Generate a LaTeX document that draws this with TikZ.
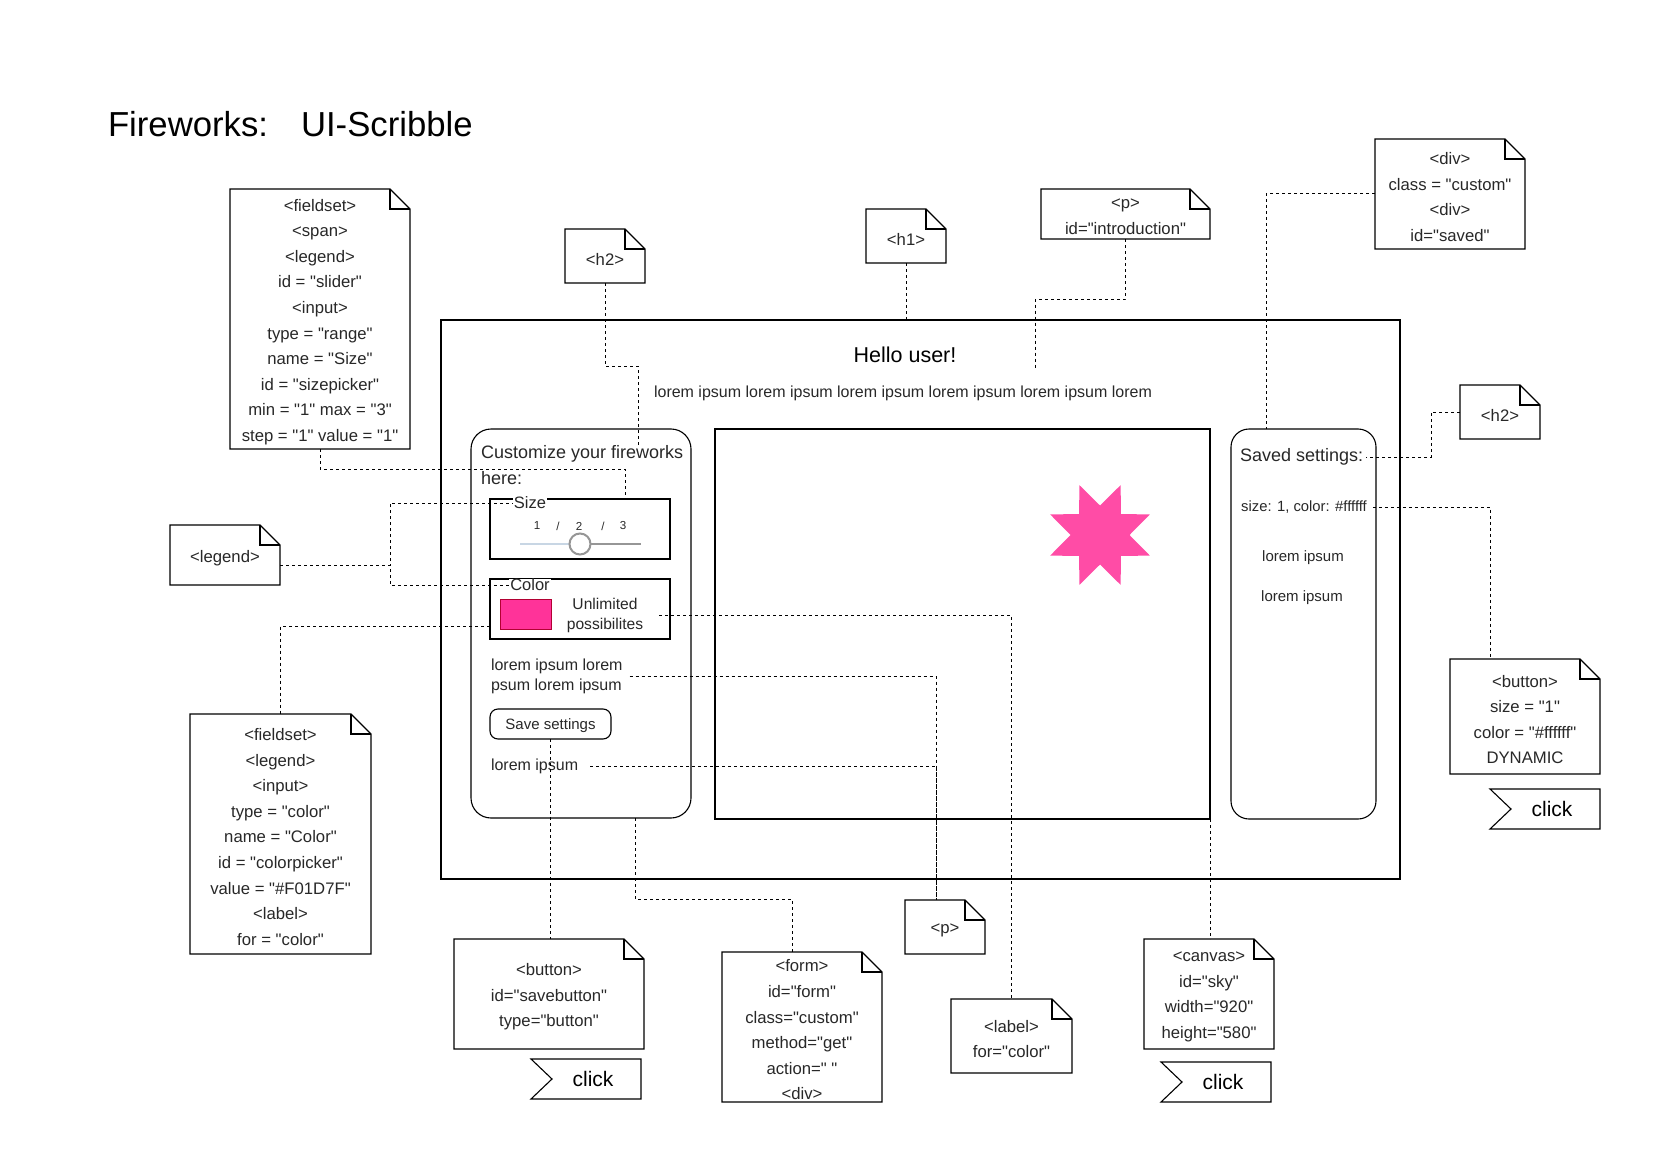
\documentclass[tikz,border=0pt]{standalone}
\usepackage{fontspec}
\setmainfont{Liberation Sans}[Ligatures=TeXOff]
\usetikzlibrary{calc}
\newcommand{\fsz}[2]{\fontsize{#1}{#2}\selectfont}
\definecolor{starpink}{RGB}{255,76,166}
\definecolor{swatchpink}{RGB}{255,51,153}
\definecolor{swatchline}{RGB}{178,0,50}
\definecolor{trackblue}{RGB}{200,214,228}
\definecolor{trackgray}{RGB}{150,150,150}
\definecolor{txtgray}{RGB}{40,40,40}
% note: frame node (name), centre x, centre y, width, height, text
\newcommand{\notebox}[6]{%
  \node[minimum width=#4, minimum height=#5] (#1) at (#2,#3) {};
  \node[notetext] (#1-t) at ($(#1.center)+(0,3)$) {#6};
  \draw[noteline] (#1.north west) -- ($(#1.north east)+(-20,0)$) -- ($(#1.north east)+(0,20)$) -- (#1.south east) -- (#1.south west) -- cycle;
  \draw[noteline] ($(#1.north east)+(-20,0)$) -- ++(0,20) -- ++(20,0);
}
% click tag: name, centre x, centre y
\newcommand{\clicktag}[3]{%
  \node[clickbox] (#1) at (#2,#3) {\hspace{14pt}click};
  \draw[noteline] (#1.north west) -- (#1.north east) -- (#1.south east) -- (#1.south west) -- ($(#1.west)+(21,0)$) -- cycle;
}
\begin{document}
\begin{tikzpicture}[x=1pt,y=-1pt,
  every node/.style={inner sep=0pt, outer sep=0pt},
  solidbox/.style={draw, line width=1.1pt},
  conn/.style={draw, line width=1pt, dash pattern=on 3pt off 3pt},
  noteline/.style={draw, line width=1.1pt},
  notetext/.style={align=center, font=\fsz{16.7}{25.6}, text=txtgray},
  clickbox/.style={minimum width=110, minimum height=40, font=\fsz{21}{24}},
  uitext/.style={text=txtgray}
]
\fill[white] (0,0) rectangle (1654,1169);
\useasboundingbox (0,0) rectangle (1654,1169);

% title
\node[anchor=base west, font=\fsz{34.7}{40}] (title) at (108,137) {Fireworks:\hspace{33pt}UI-Scribble};

% main frame and panels
\node[solidbox, minimum width=959, minimum height=559] (main) at (920.5,599.5) {};
\node[font=\fsz{21.5}{26}] (hello) at (905,355) {Hello user!};
\node[font=\fsz{16}{20}, uitext] (intro) at (903,393) {lorem ipsum lorem ipsum lorem ipsum lorem ipsum lorem ipsum lorem};

\node[solidbox, rounded corners=20, minimum width=220, minimum height=389] (cust) at (581,623.5) {};
\node[solidbox, minimum width=495, minimum height=390] (canvas) at (962.5,624) {};
\node[solidbox, rounded corners=18, minimum width=145, minimum height=390] (saved) at (1303.5,624) {};

% customize panel content
\node[anchor=base west, font=\fsz{18}{22}, uitext] (custA) at (481,458) {Customize your fireworks};
\node[anchor=base west, font=\fsz{18}{22}, uitext] (custB) at (481,484) {here:};
\coordinate (h2end) at (638,445);

\node[solidbox, minimum width=180, minimum height=60] (sizebox) at (580,529) {};
\node[fill=white, inner xsep=1pt, font=\fsz{16.5}{20}, uitext] (sizelbl) at (530,503) {Size};
\node[font=\fsz{11.6}{14}, uitext] (n1) at (537,526) {1};
\node[font=\fsz{11.6}{14}, uitext] (s1) at (558,526) {/};
\node[font=\fsz{11.6}{14}, uitext] (n2) at (579,526) {2};
\node[font=\fsz{11.6}{14}, uitext] (s2) at (603,526) {/};
\node[font=\fsz{11.6}{14}, uitext] (n3) at (623,526) {3};
\draw[line width=2pt, trackblue] (520,544) -- (570,544);
\draw[line width=2pt, trackgray] (590,544) -- (641,544);
\node[circle, draw=trackgray, line width=2pt, fill=white, minimum size=21] (knob) at (580,544) {};

\node[solidbox, minimum width=180, minimum height=60] (colorbox) at (580,609) {};
\node[fill=white, inner xsep=1pt, font=\fsz{16.5}{20}, uitext] (colorlbl) at (530,585) {Color};
\node[draw=swatchline, line width=1pt, fill=swatchpink, minimum width=51, minimum height=30] (swatch) at (525.5,614) {};
\node[align=center, font=\fsz{15.6}{20}, uitext] (unlim) at (605,615.5) {Unlimited\\possibilites};

\node[anchor=west, align=left, font=\fsz{16}{20}, uitext] (lorem1) at (491,676) {lorem ipsum lorem\\psum lorem ipsum};
\node[draw, line width=1.1pt, rounded corners=8, minimum width=121, minimum height=30] (savebtn) at (550.5,724) {};
\node[font=\fsz{15}{18}, uitext] (savebtn-t) at (550.5,726) {Save settings};
\node[anchor=west, font=\fsz{16}{20}, uitext] (lorem2) at (491,766) {lorem ipsum};

% star in canvas
\fill[starpink] ($(1100,535)+(0:29.5)$) \foreach \k in {0,...,7}{ -- ($(1100,535)+({45*\k+22.5}:54)$) -- ($(1100,535)+({45*\k+45}:29.5)$) } -- cycle;

% saved settings panel content
\node[anchor=west, inner xsep=3pt, font=\fsz{18}{22}, uitext] (savedtxt) at (1237,457) {Saved settings:};
\node[inner xsep=6pt, font=\fsz{14.8}{18}, uitext] (sizetxt) at (1304,507) {size: 1, color: \#ffffff};
\node[font=\fsz{15}{18}, uitext] (slorem1) at (1303,558) {lorem ipsum};
\node[font=\fsz{15}{18}, uitext] (slorem2) at (1302,598) {lorem ipsum};

% notes
\notebox{fs1}{320}{319}{180}{260}{<fieldset>\\<span>\\<legend>\\id = "slider"\\<input>\\type = "range"\\name = "Size"\\id = "sizepicker"\\min = "1" max = "3"\\step = "1" value = "1"}
\notebox{h2a}{605}{256}{80}{54}{<h2>}
\notebox{h1}{906}{236}{80}{54}{<h1>}
\notebox{pintro}{1125.5}{214}{169}{50}{<p>\\id="introduction"}
\notebox{div}{1450}{194}{150}{110}{<div>\\class = "custom"\\<div>\\id="saved"}
\notebox{h2b}{1500}{412}{80}{54}{<h2>}
\notebox{legend}{225}{555}{110}{60}{<legend>}
\notebox{fs2}{280.5}{834}{181}{240}{<fieldset>\\<legend>\\<input>\\type = "color"\\name = "Color"\\id = "colorpicker"\\value = "\#F01D7F"\\<label>\\for = "color"}
\notebox{btn}{549}{994}{190}{110}{<button>\\id="savebutton"\\type="button"}
\notebox{form}{802}{1027}{160}{150}{<form>\\id="form"\\class="custom"\\method="get"\\action=" "\\<div>}
\notebox{p2}{945}{927}{80}{54}{<p>}
\notebox{lbl}{1011.5}{1036}{121}{74}{<label>\\for="color"}
\notebox{cnote}{1209}{994}{130}{110}{<canvas>\\id="sky"\\width="920"\\height="580"}
\notebox{btndyn}{1525}{716.5}{150}{115}{<button>\\size = "1"\\color = "\#ffffff"\\DYNAMIC}

% click tags
\clicktag{click1}{586}{1079}
\clicktag{click2}{1545}{809}
\clicktag{click3}{1216}{1082}

% connectors
\draw[conn] (fs1.south) -- ++(0,20) -| ($(sizebox.north)+(45,0)$);
\draw[conn] (h2a.south) -- ++(0,83) -| (h2end);
\draw[conn] (h1.south) -- (h1.south |- main.north);
\coordinate (pend) at (1035,369);
\draw[conn] (pintro.south) -- ++(0,60) -| (pend);
\draw[conn] (div.west) -| ($(saved.north)+(-37.5,0)$);
\draw[conn] (h2b.west) -- ++(-29,0) |- (savedtxt.east);
\draw[conn] (sizetxt.east) -| ($(btndyn.north)+(-35,0)$);
\draw[conn] ($(legend.east)+(0,10)$) -- ++(110,0) |- (sizelbl.west);
\draw[conn] ($(legend.east)+(0,10)$) -- ++(110,0) |- (colorlbl.west);
\draw[conn] ($(colorbox.west)+(0,17)$) -| (fs2.north);
\draw[conn] ($(unlim.east)+(16,0)$) -| (lbl.north);
\draw[conn] ($(lorem1.east)+(7,0)$) -| ($(p2.north)+(-9,0)$);
\draw[conn] ($(lorem2.east)+(12,0)$) -| ($(p2.north)+(-9,0)$);
\draw[conn] (savebtn.south) -- (savebtn.south |- btn.north);
\draw[conn] ($(cust.south)+(54,0)$) -- ++(0,81) -| ($(form.north)+(-10,0)$);
\draw[conn] (canvas.south east) -- (canvas.south east |- cnote.north);
\end{tikzpicture}
\end{document}
